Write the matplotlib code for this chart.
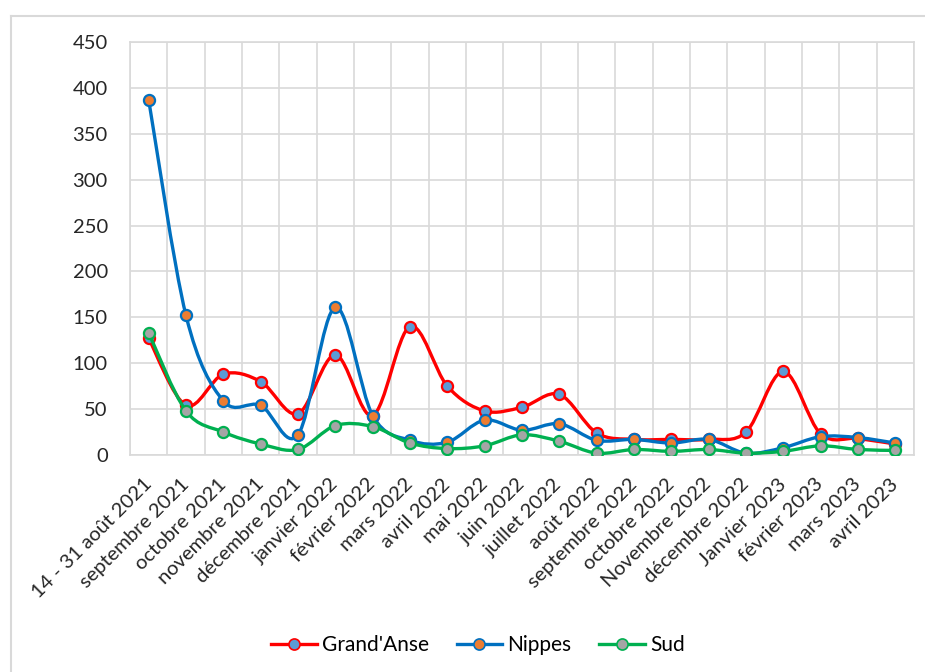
import matplotlib
matplotlib.use("Agg")
import matplotlib.pyplot as plt
from matplotlib.path import Path
from matplotlib.patches import PathPatch
from matplotlib.lines import Line2D
import numpy as np

mois = ["14 - 31 août 2021", "septembre 2021", "octobre 2021", "novembre 2021",
        "décembre 2021", "janvier 2022", "février 2022", "mars 2022", "avril 2022",
        "mai 2022", "juin 2022", "juillet 2022", "août 2022", "septembre 2022",
        "octobre 2022", "Novembre 2022", "décembre 2022", "Janvier 2023",
        "février 2023", "mars 2023", "avril 2023"]

grand_anse = [127, 54, 88, 80, 45, 109, 43, 140, 75, 48, 52, 66, 24, 17, 17, 17, 25, 91, 23, 18, 12]
nippes = [387, 152, 59, 54, 22, 161, 43, 16, 14, 38, 27, 34, 16, 17, 13, 17, 2, 8, 20, 19, 13]
sud = [133, 48, 25, 12, 6, 32, 31, 13, 7, 10, 22, 15, 2, 6, 4, 6, 2, 4, 10, 6, 5]

series = [
    ("Grand'Anse", grand_anse, "#FF0000", "#5B9BD5"),
    ("Nippes", nippes, "#0070C0", "#ED7D31"),
    ("Sud", sud, "#00B050", "#A5A5A5"),
]

plt.rcParams['font.family'] = ['Lato', 'DejaVu Sans']


def courbe_lissee(x, y):
    # bezier a la maniere d'Excel (catmull-rom)
    pts = np.column_stack([x, y]).astype(float)
    n = len(pts)
    verts = [pts[0]]
    codes = [Path.MOVETO]
    for i in range(n - 1):
        p0 = pts[max(i - 1, 0)]
        p1 = pts[i]
        p2 = pts[i + 1]
        p3 = pts[min(i + 2, n - 1)]
        c1 = p1 + (p2 - p0) / 6.0
        c2 = p2 - (p3 - p1) / 6.0
        verts += [c1, c2, p2]
        codes += [Path.CURVE4] * 3
    return Path(verts, codes)


fig = plt.figure(figsize=(9.25, 6.72), dpi=100)
ax = fig.add_axes([130 / 925, 1 - 455 / 672, 784 / 925, 413 / 672])

x = np.arange(len(mois))
handles = []
for k, (nom, vals, c_ligne, c_point) in enumerate(series):
    patch = PathPatch(courbe_lissee(x, vals), facecolor="none", edgecolor=c_ligne,
                      lw=2.4, zorder=2 + k, capstyle="round", joinstyle="round")
    ax.add_patch(patch)
    ax.plot(x, vals, linestyle="none", marker="o", markersize=8,
            markerfacecolor=c_point, markeredgecolor=c_ligne, markeredgewidth=1.6,
            zorder=2.5 + k)
    handles.append(Line2D([], [], color=c_ligne, lw=2.4, marker="o", markersize=8,
                          markerfacecolor=c_point, markeredgecolor=c_ligne,
                          markeredgewidth=1.2, label=nom))

ax.set_xlim(-0.5, len(mois) - 0.5)
ax.set_ylim(0, 450)
ax.set_yticks(np.arange(0, 451, 50))
ax.set_xticks(x)
ax.set_xticklabels(mois, rotation=45, ha="right", va="center", rotation_mode="anchor")
ax.set_xticks(np.arange(-0.5, len(mois), 1), minor=True)
ax.grid(True, which="major", axis="y", color="#D9D9D9", lw=1.2)
ax.grid(True, which="minor", axis="x", color="#D9D9D9", lw=1.2)
ax.set_axisbelow(True)
ax.tick_params(axis="both", which="both", length=0, labelsize=14.5, colors="#262626")
ax.tick_params(axis="y", pad=16)
ax.tick_params(axis="x", pad=19)
for s in ax.spines.values():
    s.set_color("#D9D9D9")
    s.set_linewidth(1.2)

fig.legend(handles=handles, loc="center", bbox_to_anchor=(478 / 925, 1 - 645 / 672),
           ncol=3, frameon=False, fontsize=15, handlelength=2.2, handletextpad=0.25,
           columnspacing=1.3)

# cadre du graphique
fig.add_artist(Line2D([11 / 925, 11 / 925], [0, 1 - 16 / 672], color="#D9D9D9", lw=1.5,
                      transform=fig.transFigure))
fig.add_artist(Line2D([11 / 925, 1], [1 - 16 / 672, 1 - 16 / 672], color="#D9D9D9", lw=1.5,
                      transform=fig.transFigure))

fig.savefig("out.png", dpi=100)
